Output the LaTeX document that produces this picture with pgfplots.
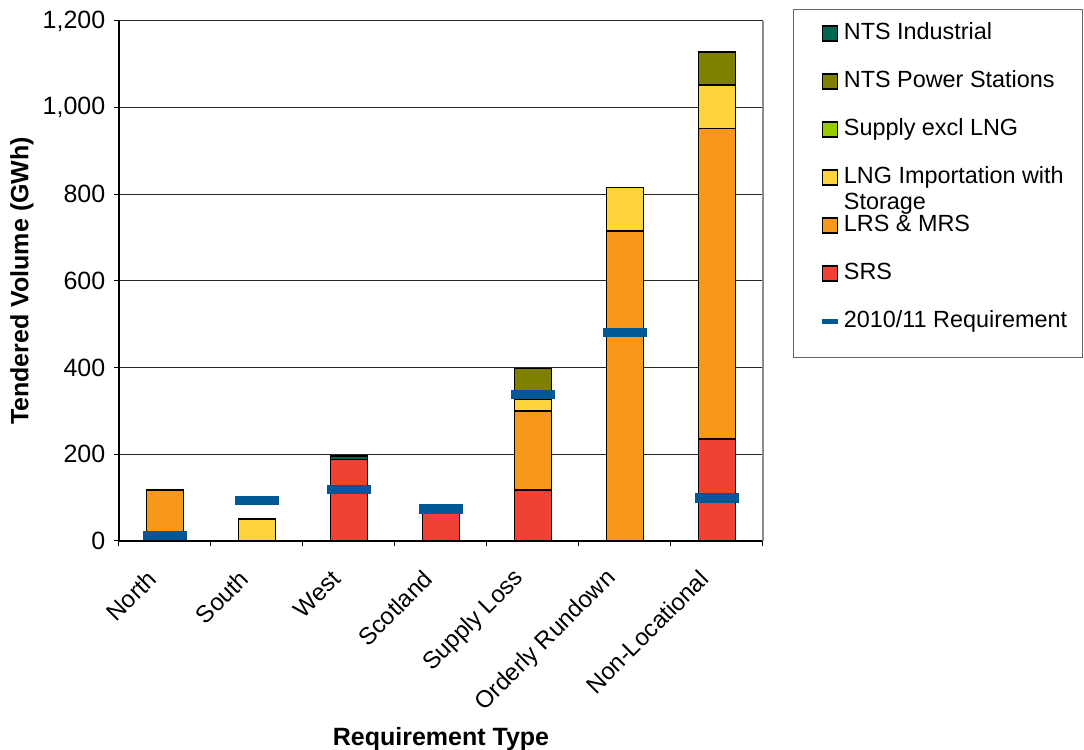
\documentclass[border=0pt]{standalone}
\usepackage{pgfplots}
\pgfplotsset{compat=1.18}
\usepackage{fontspec}
\setmainfont{Liberation Sans}
\definecolor{ntsind}{RGB}{0,102,80}
\definecolor{ntspow}{RGB}{128,128,0}
\definecolor{supex}{RGB}{153,204,0}
\definecolor{lng}{RGB}{253,212,60}
\definecolor{lrs}{RGB}{247,152,29}
\definecolor{srs}{RGB}{239,65,54}
\definecolor{reqblue}{RGB}{0,88,150}
\begin{document}
\fontsize{12.5}{13}\selectfont
\begin{tikzpicture}[font=\fontsize{12.5}{13}\selectfont]
\useasboundingbox (0,0) rectangle (542pt,375pt);
\begin{axis}[
  at={(59.5pt,104.5pt)}, anchor=south west,
  scale only axis, width=322pt, height=260pt,
  clip=false,
  ybar stacked, bar width=18.5pt,
  xmin=-0.5, xmax=6.5, ymin=0, ymax=1200,
  xtick={0,...,6},
  xticklabels={North,South,West,Scotland,Supply Loss,Orderly Rundown,Non-Locational},
  minor xtick={-0.5,0.5,...,6.5},
  ytick={0,200,...,1200},
  major x tick style={draw=none},
  tick align=outside,
  major tick length=2.5pt, minor tick length=2.5pt,
  tick style={black, line width=0.5pt},
  ymajorgrids, grid style={black!85, line width=0.5pt},
  axis x line*=bottom, axis y line*=left,
  axis line style={black, line width=0.6pt},
  /pgf/number format/assume math mode=true,
  yticklabel style={/pgf/number format/.cd, 1000 sep={,}},
  xticklabel style={font=\fontsize{12}{13}\selectfont, xshift=-5.6pt, yshift=-13.6pt, rotate=45, anchor=east, inner sep=1pt},
  ylabel={\textbf{Tendered Volume (GWh)}},
  ylabel style={at={(axis description cs:-0.1507,0.5)}, anchor=center},
  xlabel={\textbf{Requirement Type}},
  xlabel style={at={(axis description cs:0.5,-0.381)}, anchor=center},
  every axis plot/.append style={draw=black, line width=0.8pt},
  legend style={at={(axis description cs:1.0870,0.998)}, anchor=north west,
    draw=none, fill=none, inner sep=0pt,
    font=\fontsize{11.7}{13}\selectfont,
    nodes={inner sep=0pt, text height=8.5pt, text depth=2.5pt},
    row sep=13pt, column sep=1.5pt},
  legend cell align=left,
]
\addplot[fill=srs, forget plot] coordinates {(0,0) (1,0) (2,188) (3,70) (4,118) (5,0) (6,236)};
\addplot[fill=lrs, forget plot] coordinates {(0,117) (1,0) (2,0) (3,0) (4,182) (5,715) (6,716)};
\addplot[fill=lng, forget plot] coordinates {(0,0) (1,51) (2,0) (3,0) (4,28) (5,101) (6,100)};
\addplot[fill=ntspow, forget plot] coordinates {(0,0) (1,0) (2,0) (3,0) (4,70) (5,0) (6,76)};
\addplot[fill=ntsind, forget plot] coordinates {(0,2) (1,0) (2,8) (3,0) (4,0) (5,0) (6,0)};
\addlegendimage{legend image code/.code={\draw[fill=ntsind, draw=black, line width=0.75pt] (0pt,-3.75pt) rectangle (7.5pt,3.75pt);}}
\addlegendentry{NTS Industrial}
\addlegendimage{legend image code/.code={\draw[fill=ntspow, draw=black, line width=0.75pt] (0pt,-3.75pt) rectangle (7.5pt,3.75pt);}}
\addlegendentry{NTS Power Stations}
\addlegendimage{legend image code/.code={\draw[fill=supex, draw=black, line width=0.75pt] (0pt,-3.75pt) rectangle (7.5pt,3.75pt);}}
\addlegendentry{Supply excl LNG}
\addlegendimage{legend image code/.code={\draw[fill=lng, draw=black, line width=0.75pt] (0pt,-3.75pt) rectangle (7.5pt,3.75pt);}}
\addlegendentry{\smash{\begin{tabular}[t]{@{}l@{}}LNG Importation with\\Storage\end{tabular}}}
\addlegendimage{legend image code/.code={\draw[fill=lrs, draw=black, line width=0.75pt] (0pt,-3.75pt) rectangle (7.5pt,3.75pt);}}
\addlegendentry{LRS \& MRS}
\addlegendimage{legend image code/.code={\draw[fill=srs, draw=black, line width=0.75pt] (0pt,-3.75pt) rectangle (7.5pt,3.75pt);}}
\addlegendentry{SRS}
\addlegendimage{legend image code/.code={\draw[draw=reqblue, line width=2.5pt] (-0.375pt,0pt) -- (7.875pt,0pt);}}
\addlegendentry{2010/11 Requirement}
\draw[black!60, line width=0.5pt] (axis description cs:1.0466,1.0212) rectangle (axis description cs:1.4969,0.352);
\draw[black!45, line width=0.6pt] (axis description cs:1,0) -- (axis description cs:1,1);
\end{axis}
\begin{axis}[
  at={(59.5pt,104.5pt)}, anchor=south west,
  scale only axis, width=322pt, height=260pt,
  xmin=-0.5, xmax=6.5, ymin=0, ymax=1200,
  hide axis, clip=false,
]
\addplot[only marks, mark=-, mark size=11pt, mark options={line width=4.6pt, draw=reqblue}]
  coordinates {(0,12) (1,94) (2,118) (3,74) (4,338) (5,481) (6,99)};
\end{axis}
\end{tikzpicture}
\end{document}
